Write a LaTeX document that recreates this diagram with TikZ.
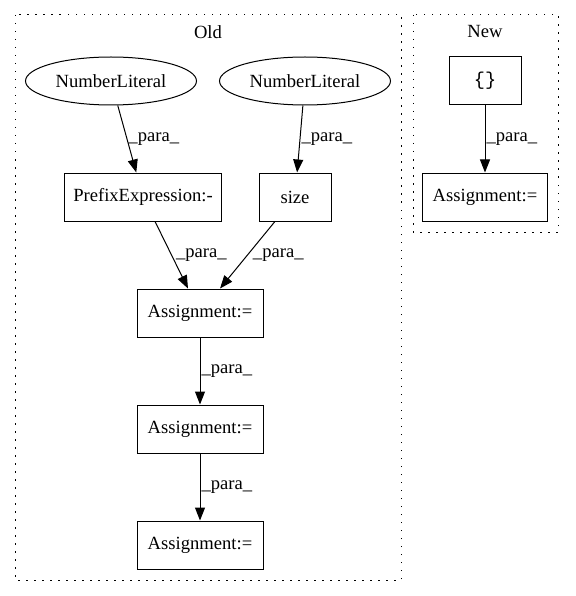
\documentclass[tikz,border=0pt]{standalone}
\usepackage{fontspec}
\setmainfont{Liberation Serif}
\setmonofont{Liberation Mono}
\usetikzlibrary{arrows.meta,shapes.geometric}

\tikzset{
  graph/.style={
    every node/.style={font=\fontsize{18.6pt}{21pt}\selectfont},
    para/.style={-{Triangle[length=13pt,width=10pt]},line width=1pt},
    lbl/.style={anchor=west,inner sep=1pt},
    cluster/.style={draw,line width=1pt,dash pattern=on 1.5pt off 6.5pt},
  }
}

\begin{document}
\begin{tikzpicture}[x=1pt, y=-1pt, graph]
        \tikzstyle{literal}=[ellipse,draw,line width=1pt,minimum width=171pt,minimum height=48pt,inner sep=0pt]
        \tikzstyle{stmt}=[rectangle,draw,line width=1pt,minimum height=48pt,inner sep=0pt]

        \useasboundingbox (0,0) rectangle (575,596);

        % clusters
        \draw[cluster] (15,15) rectangle (401,580);
        \node (T_old) at (208,32) {Old};
        \draw[cluster] (413,15) rectangle (558,232);
        \node (T_new) at (485,32) {New};

        % old
        \node[literal] (O_1) at (111,81)  {NumberLiteral};
        \node[literal] (O_2) at (305,81)  {NumberLiteral};
        \node[stmt,minimum width=157pt] (O_3) at (143,197) {PrefixExpression:-};
        \node[stmt,minimum width=72pt] (O_4) at (295,197) {size};
        \node[stmt,minimum width=126pt] (O_5) at (200,313) {Assignment:=};
        \node[stmt,minimum width=126pt] (O_6) at (200,429) {Assignment:=};
        \node[stmt,minimum width=126pt] (O_7) at (200,545) {Assignment:=};

        % new
        \node[stmt,minimum width=72pt] (N_1) at (485,81) {\texttt{\{\}}};
        \node[stmt,minimum width=125pt] (N_2) at (485,197) {Assignment:=};

        \draw[para] (O_1) -- (O_3) node[midway,lbl] {\_para\_};
        \draw[para] (O_2) -- (O_4) node[midway,lbl] {\_para\_};
        \draw[para] (O_3) -- (O_5) node[midway,lbl,xshift=3pt] {\_para\_};
        \draw[para] (O_4) -- (O_5) node[midway,lbl,xshift=4pt] {\_para\_};
        \draw[para] (O_5) -- (O_6) node[midway,lbl] {\_para\_};
        \draw[para] (O_6) -- (O_7) node[midway,lbl] {\_para\_};
        \draw[para] (N_1) -- (N_2) node[midway,lbl] {\_para\_};
\end{tikzpicture}
\end{document}
